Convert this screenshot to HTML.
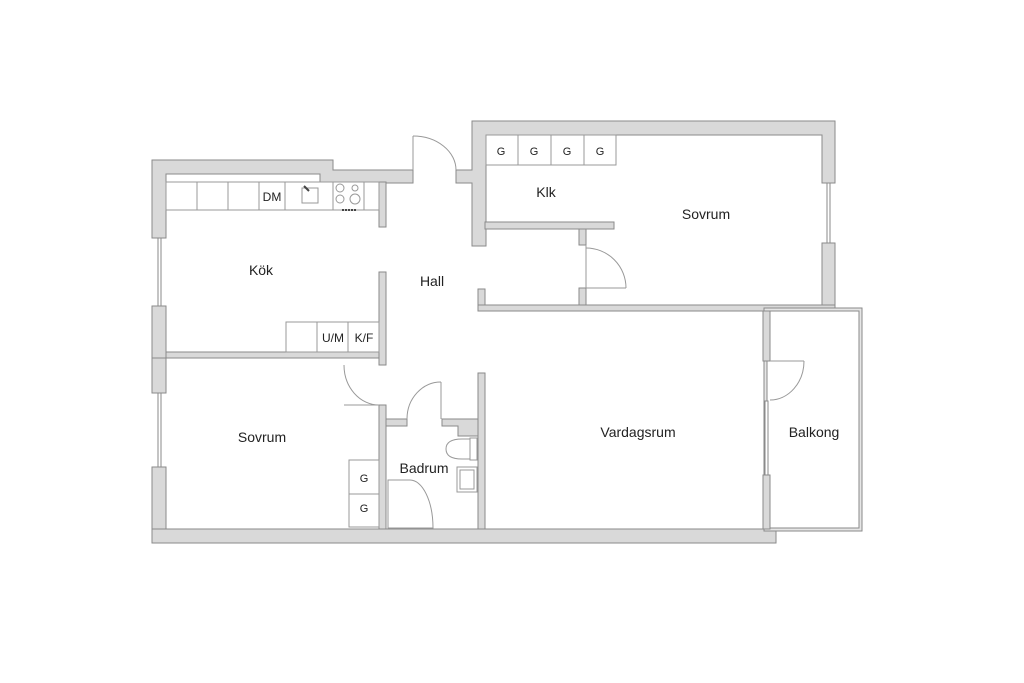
<!DOCTYPE html>
<html><head><meta charset="utf-8"><style>
html,body{margin:0;padding:0;background:#fff}
svg{display:block}
text{font-family:"Liberation Sans",sans-serif;fill:#222}
</style></head><body>
<svg width="1024" height="683" viewBox="0 0 1024 683" xmlns="http://www.w3.org/2000/svg">
<g fill="#d9d9d9" stroke="#8a8a8a" stroke-width="1">
<!-- kitchen top walls -->
<polygon points="152,160 333,160 333,170 413,170 413,183 320,183 320,174 166,174 166,238 152,238"/>
<rect x="152" y="306" width="14" height="52"/>
<rect x="152" y="358" width="14" height="35"/>
<rect x="152" y="467" width="14" height="76"/>
<!-- bottom wall -->
<rect x="152" y="529" width="624" height="14"/>
<!-- kitchen right wall -->
<rect x="379" y="182" width="7" height="45"/>
<rect x="379" y="272" width="7" height="93"/>
<!-- kitchen/sovrum separator -->
<rect x="166" y="352" width="213" height="6"/>
<!-- sovrum2 / bath wall -->
<rect x="379" y="405" width="7" height="124"/>
<!-- bath top -->
<rect x="386" y="419" width="21" height="7"/>
<polygon points="442,419 478,419 478,436 458,436 458,426 442,426"/>
<rect x="478" y="373" width="7" height="156"/>
<!-- Klk / sovrum outer -->
<polygon points="472,121 835,121 835,183 822,183 822,135 486,135 486,246 472,246 472,183 456,183 456,170 472,170"/>
<rect x="822" y="243" width="13" height="68"/>
<rect x="478" y="305" width="357" height="6"/>
<rect x="478" y="289" width="7" height="16"/>
<rect x="485" y="222" width="129" height="7"/>
<rect x="579" y="229" width="7" height="16"/>
<rect x="579" y="288" width="7" height="17"/>
<!-- vardagsrum right wall -->
<rect x="763" y="311" width="7" height="50"/>
<rect x="763" y="475" width="7" height="54"/>
</g>
<!-- windows -->
<g fill="#fff" stroke="#8a8a8a" stroke-width="1">
<rect x="158" y="238" width="3" height="68"/>
<rect x="158" y="393" width="3" height="74"/>
<rect x="827" y="183" width="3" height="60"/>
<rect x="765" y="401" width="3" height="74"/>
</g>
<!-- balcony -->
<rect x="764" y="308" width="98" height="223" fill="#e6e6e6" stroke="#8a8a8a"/>
<rect x="767" y="311" width="92" height="217" fill="#fff" stroke="#8a8a8a"/>
<rect x="763" y="311" width="7" height="50" fill="#d9d9d9" stroke="#8a8a8a"/>
<rect x="763" y="475" width="7" height="54" fill="#d9d9d9" stroke="#8a8a8a"/>
<rect x="765" y="401" width="3" height="74" fill="#fff" stroke="#8a8a8a"/>
<!-- cabinets -->
<g fill="#fff" stroke="#999" stroke-width="1">
<rect x="166" y="182" width="213" height="28"/>
<line x1="197" y1="182" x2="197" y2="210"/><line x1="228" y1="182" x2="228" y2="210"/>
<line x1="259" y1="182" x2="259" y2="210"/><line x1="285" y1="182" x2="285" y2="210"/>
<line x1="333" y1="182" x2="333" y2="210"/><line x1="364" y1="182" x2="364" y2="210"/>
<rect x="302" y="188" width="16" height="15"/>
<circle cx="340" cy="188" r="4"/><circle cx="355" cy="188" r="3"/>
<circle cx="340" cy="199" r="4"/><circle cx="355" cy="199" r="5"/>
<rect x="286" y="322" width="93" height="30"/>
<line x1="317" y1="322" x2="317" y2="352"/><line x1="348" y1="322" x2="348" y2="352"/>
<rect x="486" y="135" width="130" height="30"/>
<line x1="518" y1="135" x2="518" y2="165"/><line x1="551" y1="135" x2="551" y2="165"/><line x1="584" y1="135" x2="584" y2="165"/>
<rect x="349" y="460" width="30" height="67"/>
<line x1="349" y1="494" x2="379" y2="494"/>
<!-- bath fixtures -->
<path d="M446,449 Q446,439 462,439 L470,439 L470,459 L462,459 Q446,459 446,449 Z"/>
<rect x="470" y="438" width="7" height="22"/>
<rect x="457" y="467" width="20" height="25"/>
<rect x="460" y="470" width="14" height="19"/>
<path d="M388,528 L388,480 L410,480 A23,48 0 0 1 433,528 Z"/>
</g>
<line x1="342" y1="210" x2="357" y2="210" stroke="#444" stroke-width="2" stroke-dasharray="2,1"/>
<line x1="304" y1="186" x2="309" y2="191" stroke="#444" stroke-width="2"/>
<!-- doors -->
<g fill="none" stroke="#999" stroke-width="1">
<line x1="413" y1="136" x2="413" y2="170"/>
<path d="M413,136 A43,34 0 0 1 456,170"/>
<line x1="586" y1="245" x2="586" y2="288"/>
<path d="M586,248 A40,40 0 0 1 626,288"/><line x1="586" y1="288" x2="626" y2="288"/>
<path d="M344,365 A35,40 0 0 0 379,405"/><line x1="344" y1="405" x2="379" y2="405"/>
<path d="M407,419 A34,37 0 0 1 441,382"/><line x1="441" y1="382" x2="441" y2="419"/>
<line x1="770" y1="361" x2="804" y2="361"/>
<path d="M804,361 A34,39 0 0 1 770,400"/>
</g>
<g font-size="14" text-anchor="middle">
<text x="261" y="275">Kök</text>
<text x="432" y="286">Hall</text>
<text x="546" y="197">Klk</text>
<text x="706" y="219">Sovrum</text>
<text x="262" y="442">Sovrum</text>
<text x="638" y="437">Vardagsrum</text>
<text x="424" y="473">Badrum</text>
<text x="814" y="437">Balkong</text>
</g>
<g font-size="12" text-anchor="middle">
<text x="272" y="201">DM</text>
<text x="333" y="342">U/M</text>
<text x="364" y="342">K/F</text>
</g>
<g font-size="11" text-anchor="middle">
<text x="501" y="155">G</text><text x="534" y="155">G</text><text x="567" y="155">G</text><text x="600" y="155">G</text>
<text x="364" y="482">G</text><text x="364" y="512">G</text>
</g>
</svg>
</body></html>
